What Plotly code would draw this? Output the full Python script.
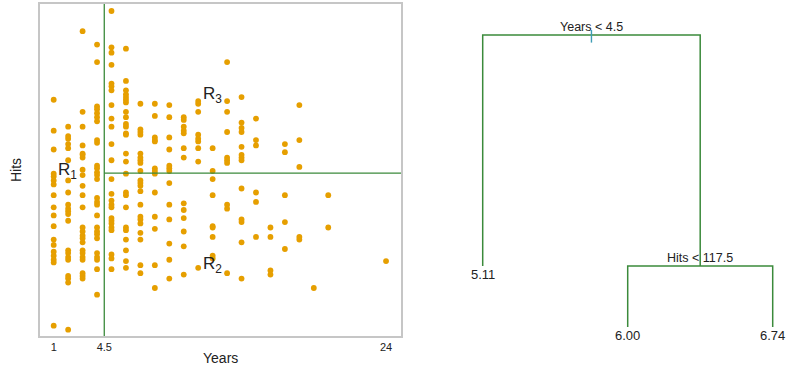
import plotly.graph_objects as go

# ---- Hitters: Years in the league vs. Hits, one list of Hits per Years value ----
years_played = [1, 2, 3, 4, 5, 6, 7, 8, 9, 10, 11, 12, 13, 14, 15, 16, 17, 18, 19, 20, 24]
hits_by_year = [
    [172, 149, 135, 117, 115, 112, 109, 101, 92, 86, 78, 68, 64, 59, 56, 53, 51, 4],
    [152, 145, 143, 139, 136, 127, 112, 103, 94, 91, 89, 87, 82, 60, 58, 55, 53, 41, 39, 36, 1],
    [223, 163, 152, 138, 132, 131, 129, 120, 116, 108, 101, 92, 77, 74, 71, 69, 66, 60, 58, 55, 53, 43, 41, 39],
    [213, 200, 167, 165, 162, 159, 156, 142, 140, 123, 121, 118, 116, 113, 99, 96, 94, 86, 77, 74, 72, 69, 58, 55, 53, 46, 27],
    [238, 211, 207, 198, 184, 182, 179, 168, 158, 152, 139, 127, 113, 102, 97, 94, 92, 84, 82, 80, 77, 75, 57, 54, 46],
    [210, 186, 179, 176, 174, 172, 170, 163, 159, 154, 152, 147, 146, 132, 126, 117, 103, 101, 92, 77, 75, 68, 60, 52, 47],
    [169, 150, 148, 146, 132, 129, 127, 125, 119, 112, 110, 108, 104, 94, 85, 83, 80, 73, 68, 49, 43],
    [169, 160, 144, 142, 141, 121, 119, 117, 103, 85, 76, 49, 32],
    [168, 159, 144, 135, 123, 121, 119, 110, 94, 83, 65, 53, 39],
    [159, 157, 152, 149, 147, 136, 129, 95, 90, 84, 74, 63, 42],
    [171, 169, 163, 146, 143, 141, 136, 126, 47],
    [136, 119, 113, 101, 78, 77, 70, 56, 54],
    [200, 171, 163, 148, 129, 127, 125, 94, 91, 43],
    [174, 155, 151, 148, 137, 131, 129, 127, 106, 83, 81, 66, 39],
    [158, 142, 138, 103, 96, 70],
    [77, 70, 45, 42],
    [139, 133, 101, 81, 61],
    [168, 142, 122, 70, 68],
    [32],
    [101, 77],
    [52],
]
x_ticks = [1, 4.5, 24]
x_tick_text = ["1", "4.5", "24"]

# split points of the fitted tree
years_cut = 4.5
hits_cut = 117.5
region_labels = ["R<sub>1</sub>", "R<sub>2</sub>", "R<sub>3</sub>"]
# label anchor (Years, Hits) for each region
region_pos = [(1.37, 120.5), (11.37, 50.6), (11.37, 177.0)]

# ---- tree: node labels, children and node heights (scaled deviance) ----
tree_labels = ["Years < 4.5", "5.11", "Hits < 117.5", "6.00", "6.74"]
tree_children = {0: (1, 2), 2: (3, 4)}
tree_heights = [1.0, 0.209, 0.209, 0.0, 0.0]

ORANGE = "#E69F00"
GREEN = "#3b8a3b"
TEXT = "#222222"
FONT = "Liberation Sans, Arial, sans-serif"

x_range = [0.052, 25.035]
y_range = [-3.7, 243.2]

xs, ys = [], []
for yr, col in zip(years_played, hits_by_year):
    xs += [yr] * len(col)
    ys += col

fig = go.Figure()

fig.add_trace(go.Scatter(
    x=xs, y=ys, mode="markers",
    marker=dict(color=ORANGE, size=5.8, line=dict(width=0)),
    xaxis="x", yaxis="y", hoverinfo="skip", showlegend=False,
))

# partition of the predictor space
fig.add_trace(go.Scatter(
    x=[years_cut, years_cut], y=y_range, mode="lines",
    line=dict(color=GREEN, width=1.3), xaxis="x", yaxis="y",
    hoverinfo="skip", showlegend=False,
))
fig.add_trace(go.Scatter(
    x=[years_cut, x_range[1]], y=[hits_cut, hits_cut], mode="lines",
    line=dict(color=GREEN, width=1.3), xaxis="x", yaxis="y",
    hoverinfo="skip", showlegend=False,
))

annotations = []
for lab, (rx, ry) in zip(region_labels, region_pos):
    annotations.append(dict(
        x=rx, y=ry, xref="x", yref="y", text=lab, showarrow=False,
        xanchor="left", yanchor="middle", xshift=-3, yshift=-2,
        font=dict(family=FONT, size=17, color=TEXT),
    ))

# ---- tree layout: leaves evenly spaced, parents centred over children ----
leaf_x = {}
def place(n, counter=[0]):
    if n in tree_children:
        a, b = tree_children[n]
        place(a); place(b)
        leaf_x[n] = (leaf_x[a] + leaf_x[b]) / 2
    else:
        counter[0] += 1
        leaf_x[n] = counter[0]
place(0)

tx, ty = [], []
for n, (a, b) in tree_children.items():
    h = tree_heights[n]
    tx += [leaf_x[a], leaf_x[a], leaf_x[b], leaf_x[b], None]
    ty += [tree_heights[a], h, h, tree_heights[b], None]
fig.add_trace(go.Scatter(
    x=tx, y=ty, mode="lines", line=dict(color=GREEN, width=1.5),
    xaxis="x2", yaxis="y2", hoverinfo="skip", showlegend=False,
))
# root marker under the first split label
fig.add_trace(go.Scatter(
    x=[leaf_x[0], leaf_x[0]], y=[tree_heights[0] + 0.017, tree_heights[0] - 0.026],
    mode="lines", line=dict(color="#3e9db5", width=1.4),
    xaxis="x2", yaxis="y2", hoverinfo="skip", showlegend=False,
))

for n, lab in enumerate(tree_labels):
    if n in tree_children:
        annotations.append(dict(
            x=leaf_x[n], y=tree_heights[n], xref="x2", yref="y2", text=lab,
            showarrow=False, xanchor="center", yanchor="bottom", yshift=-1,
            font=dict(family=FONT, size=12.5, color=TEXT),
        ))
    else:
        annotations.append(dict(
            x=leaf_x[n], y=tree_heights[n], xref="x2", yref="y2", text=lab,
            showarrow=False, xanchor="center", yanchor="top", yshift=1,
            font=dict(family=FONT, size=13, color=TEXT),
        ))

# axis titles
annotations.append(dict(
    x=220 / 786, y=1 - 358 / 369, xref="paper", yref="paper", text="Years",
    showarrow=False, xanchor="center", yanchor="middle",
    font=dict(family=FONT, size=14, color=TEXT),
))
annotations.append(dict(
    x=16 / 786, y=1 - 170 / 369, xref="paper", yref="paper", text="Hits",
    showarrow=False, xanchor="center", yanchor="middle", textangle=-90,
    font=dict(family=FONT, size=14, color=TEXT),
))

fig.update_layout(
    width=786, height=369,
    margin=dict(l=0, r=0, t=0, b=0),
    paper_bgcolor="white", plot_bgcolor="white",
    xaxis=dict(
        domain=[40 / 786, 401 / 786], range=x_range,
        tickvals=x_ticks, ticktext=x_tick_text, ticks="",
        showgrid=False, zeroline=False, showline=True, mirror=True,
        linecolor="#c6c6c6", linewidth=1.5,
        tickfont=dict(family=FONT, size=11, color=TEXT),
    ),
    yaxis=dict(
        domain=[1 - 336 / 369, 1 - 4 / 369], range=y_range,
        showticklabels=False, ticks="",
        showgrid=False, zeroline=False, showline=True, mirror=True,
        linecolor="#c6c6c6", linewidth=1.5,
    ),
    xaxis2=dict(
        domain=[420 / 786, 1.0], range=[0.5676, 3.0917],
        visible=False, anchor="y2",
    ),
    yaxis2=dict(
        domain=[0.0, 1.0], range=[-0.1438, 1.1199],
        visible=False, anchor="x2",
    ),
    annotations=annotations,
    showlegend=False,
)

fig.write_html("out.html")
